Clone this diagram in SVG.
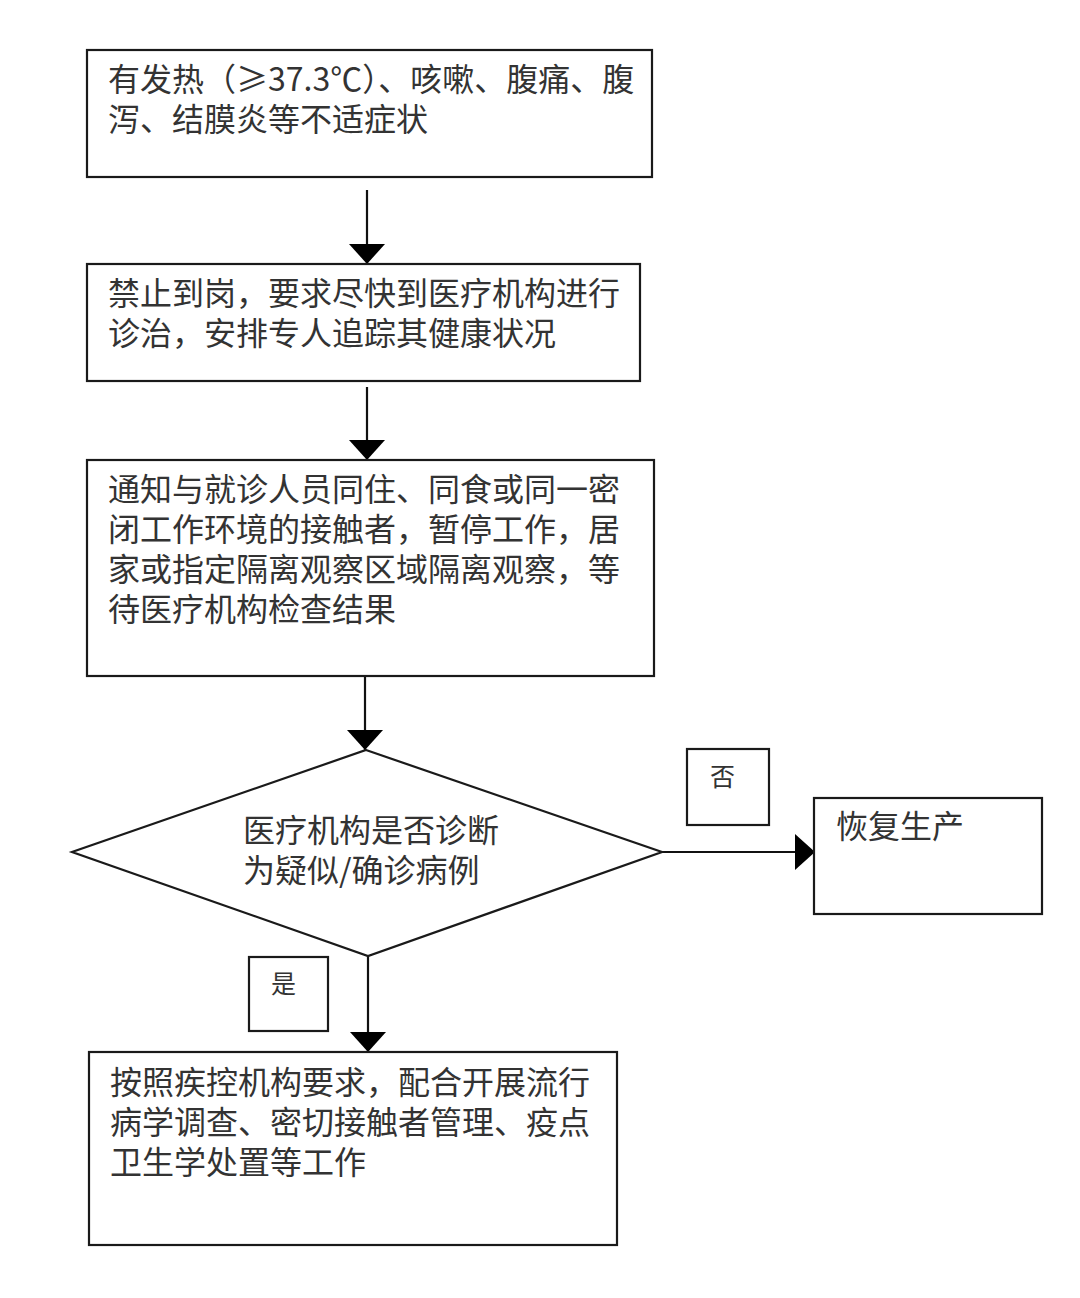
<svg xmlns="http://www.w3.org/2000/svg" width="1080" height="1298" viewBox="0 0 1080 1298">
<defs>
<style>
.box{fill:#fff;stroke:#1a1a1a;stroke-width:2.2}
.t{font-family:"Noto Sans CJK SC","Noto Sans",sans-serif;font-size:32px;fill:#333}
.s{font-family:"Noto Sans CJK SC","Noto Sans",sans-serif;font-size:25px;fill:#333}
.c{stroke:#111;stroke-width:2.2;fill:none}
</style>
<marker id="ah" markerUnits="userSpaceOnUse" markerWidth="22" markerHeight="38" refX="20" refY="18" orient="auto" viewBox="0 0 22 38">
<path d="M0,0 L20,18 L0,36 z" fill="#000"/>
</marker>
</defs>
<rect width="1080" height="1298" fill="#fff"/>
<g id="connectors">
<line class="c" x1="367" y1="190" x2="367" y2="264" marker-end="url(#ah)"/>
<line class="c" x1="367" y1="387" x2="367" y2="460" marker-end="url(#ah)"/>
<line class="c" x1="365" y1="676" x2="365" y2="750" marker-end="url(#ah)"/>
<line class="c" x1="662" y1="852" x2="815" y2="852" marker-end="url(#ah)"/>
<line class="c" x1="368" y1="956" x2="368" y2="1052" marker-end="url(#ah)"/>
</g>
<g id="n1">
<rect class="box" x="87" y="50" width="565" height="127"/>
<text class="t"><tspan x="108" y="91">有发热（≥37.3℃）、咳嗽、腹痛、腹</tspan><tspan x="108" y="131">泻、结膜炎等不适症状</tspan></text>
</g>
<g id="n2">
<rect class="box" x="87" y="264" width="553" height="117"/>
<text class="t"><tspan x="108" y="305">禁止到岗，要求尽快到医疗机构进行</tspan><tspan x="108" y="345">诊治，安排专人追踪其健康状况</tspan></text>
</g>
<g id="n3">
<rect class="box" x="87" y="460" width="567" height="216"/>
<text class="t"><tspan x="108" y="501">通知与就诊人员同住、同食或同一密</tspan><tspan x="108" y="541">闭工作环境的接触者，暂停工作，居</tspan><tspan x="108" y="581">家或指定隔离观察区域隔离观察，等</tspan><tspan x="108" y="621">待医疗机构检查结果</tspan></text>
</g>
<g id="n4">
<polygon class="box" points="366,750 662,852 368,956 72,852"/>
<text class="t"><tspan x="243" y="842">医疗机构是否诊断</tspan><tspan x="243" y="882">为疑似/确诊病例</tspan></text>
</g>
<g id="n5">
<rect class="box" x="814" y="798" width="228" height="116"/>
<text class="t" x="836" y="838">恢复生产</text>
</g>
<g id="lbl-no">
<rect class="box" x="687" y="749" width="82" height="76"/>
<text class="s" x="710" y="786">否</text>
</g>
<g id="lbl-yes">
<rect class="box" x="249" y="957" width="79" height="74"/>
<text class="s" x="271" y="993">是</text>
</g>
<g id="n6">
<rect class="box" x="89" y="1052" width="528" height="193"/>
<text class="t"><tspan x="110" y="1094">按照疾控机构要求，配合开展流行</tspan><tspan x="110" y="1134">病学调查、密切接触者管理、疫点</tspan><tspan x="110" y="1174">卫生学处置等工作</tspan></text>
</g>
</svg>
